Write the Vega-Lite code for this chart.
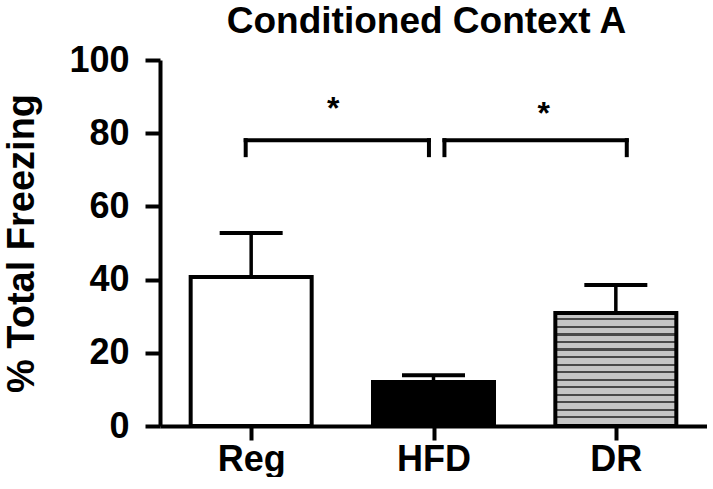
{
  "$schema": "https://vega.github.io/schema/vega-lite/v6.json",
  "width": 547,
  "height": 366,
  "padding": {"left": 3, "top": 3, "right": 0, "bottom": 0},
  "background": "white",
  "config": {
    "view": {"stroke": null},
    "font": "Liberation Sans",
    "axis": {
      "grid": false,
      "domainColor": "black",
      "domainWidth": 4,
      "tickColor": "black",
      "tickWidth": 4,
      "labelFont": "Liberation Sans",
      "labelFontWeight": "bold",
      "labelColor": "black",
      "titleFont": "Liberation Sans",
      "titleFontWeight": "bold",
      "titleColor": "black"
    }
  },
  "title": {
    "text": "Conditioned Context A",
    "font": "Liberation Sans",
    "fontSize": 37,
    "fontWeight": "bold",
    "color": "black",
    "anchor": "middle",
    "frame": "group",
    "dx": -7,
    "offset": 1
  },
  "datasets": {
    "bars": [
      {"group": "Reg", "i": 0, "mean": 40.7, "upper": 52.7},
      {"group": "HFD", "i": 1, "mean": 12.0, "upper": 13.9},
      {"group": "DR", "i": 2, "mean": 30.9, "upper": 38.5}
    ],
    "brackets": [
      {"x": -0.03, "x2": 0.975, "y": 78.1, "y2": 78.1},
      {"x": -0.03, "x2": -0.03, "y": 78.1, "y2": 74.0},
      {"x": 0.975, "x2": 0.975, "y": 78.1, "y2": 74.0},
      {"x": 1.06, "x2": 2.06, "y": 78.1, "y2": 78.1},
      {"x": 1.06, "x2": 1.06, "y": 78.1, "y2": 74.0},
      {"x": 2.06, "x2": 2.06, "y": 78.1, "y2": 74.0}
    ],
    "stars": [
      {"x": 0.45, "y": 84.0, "label": "*"},
      {"x": 1.605, "y": 82.5, "label": "*"}
    ]
  },
  "layer": [
    {
      "data": {"name": "bars"},
      "mark": {"type": "rule", "stroke": "black", "strokeWidth": 3.5},
      "encoding": {
        "x": {
          "field": "i", "type": "quantitative",
          "scale": {"domain": [-0.5, 2.5], "nice": false, "zero": false, "padding": 0},
          "axis": {
            "values": [0, 1, 2],
            "labelExpr": "['Reg','HFD','DR'][datum.value]",
            "labelFontSize": 36,
            "tickSize": 14,
            "labelPadding": 2,
            "title": null
          }
        },
        "y": {
          "field": "mean", "type": "quantitative",
          "scale": {"domain": [0, 100], "nice": false},
          "axis": {
            "values": [0, 20, 40, 60, 80, 100],
            "labelFontSize": 36,
            "tickSize": 15,
            "labelPadding": 16,
            "title": "% Total Freezing",
            "titleFontSize": 38,
            "titlePadding": 27
          }
        },
        "y2": {"field": "upper"}
      }
    },
    {
      "data": {"name": "bars"},
      "mark": {"type": "tick", "orient": "horizontal", "size": 63, "thickness": 4, "color": "black", "opacity": 1},
      "encoding": {
        "x": {"field": "i", "type": "quantitative"},
        "y": {"field": "upper", "type": "quantitative"}
      }
    },
    {
      "data": {"name": "bars"},
      "transform": [{"filter": "datum.group !== 'DR'"}],
      "mark": {"type": "bar", "size": 121, "stroke": "black", "strokeWidth": 4},
      "encoding": {
        "x": {"field": "i", "type": "quantitative"},
        "y": {"field": "mean", "type": "quantitative"},
        "fill": {
          "field": "group", "type": "nominal",
          "scale": {"domain": ["Reg", "HFD"], "range": ["white", "black"]},
          "legend": null
        }
      }
    },
    {
      "data": {"name": "bars"},
      "transform": [{"filter": "datum.group === 'DR'"}],
      "mark": {
        "type": "bar", "size": 121, "stroke": "black", "strokeWidth": 4,
        "fill": {
          "gradient": "linear", "x1": 0, "y1": 0, "x2": 0, "y2": 1,
          "stops": [
            {"offset": 0, "color": "#c6c6c6"}, {"offset": 0.048, "color": "#c6c6c6"}, {"offset": 0.048, "color": "#4a4a4a"}, {"offset": 0.0667, "color": "#4a4a4a"},
            {"offset": 0.0667, "color": "#c6c6c6"}, {"offset": 0.1147, "color": "#c6c6c6"}, {"offset": 0.1147, "color": "#4a4a4a"}, {"offset": 0.1333, "color": "#4a4a4a"},
            {"offset": 0.1333, "color": "#c6c6c6"}, {"offset": 0.1813, "color": "#c6c6c6"}, {"offset": 0.1813, "color": "#4a4a4a"}, {"offset": 0.2, "color": "#4a4a4a"},
            {"offset": 0.2, "color": "#c6c6c6"}, {"offset": 0.248, "color": "#c6c6c6"}, {"offset": 0.248, "color": "#4a4a4a"}, {"offset": 0.2667, "color": "#4a4a4a"},
            {"offset": 0.2667, "color": "#c6c6c6"}, {"offset": 0.3147, "color": "#c6c6c6"}, {"offset": 0.3147, "color": "#4a4a4a"}, {"offset": 0.3333, "color": "#4a4a4a"},
            {"offset": 0.3333, "color": "#c6c6c6"}, {"offset": 0.3813, "color": "#c6c6c6"}, {"offset": 0.3813, "color": "#4a4a4a"}, {"offset": 0.4, "color": "#4a4a4a"},
            {"offset": 0.4, "color": "#c6c6c6"}, {"offset": 0.448, "color": "#c6c6c6"}, {"offset": 0.448, "color": "#4a4a4a"}, {"offset": 0.4667, "color": "#4a4a4a"},
            {"offset": 0.4667, "color": "#c6c6c6"}, {"offset": 0.5147, "color": "#c6c6c6"}, {"offset": 0.5147, "color": "#4a4a4a"}, {"offset": 0.5333, "color": "#4a4a4a"},
            {"offset": 0.5333, "color": "#c6c6c6"}, {"offset": 0.5813, "color": "#c6c6c6"}, {"offset": 0.5813, "color": "#4a4a4a"}, {"offset": 0.6, "color": "#4a4a4a"},
            {"offset": 0.6, "color": "#c6c6c6"}, {"offset": 0.648, "color": "#c6c6c6"}, {"offset": 0.648, "color": "#4a4a4a"}, {"offset": 0.6667, "color": "#4a4a4a"},
            {"offset": 0.6667, "color": "#c6c6c6"}, {"offset": 0.7147, "color": "#c6c6c6"}, {"offset": 0.7147, "color": "#4a4a4a"}, {"offset": 0.7333, "color": "#4a4a4a"},
            {"offset": 0.7333, "color": "#c6c6c6"}, {"offset": 0.7813, "color": "#c6c6c6"}, {"offset": 0.7813, "color": "#4a4a4a"}, {"offset": 0.8, "color": "#4a4a4a"},
            {"offset": 0.8, "color": "#c6c6c6"}, {"offset": 0.848, "color": "#c6c6c6"}, {"offset": 0.848, "color": "#4a4a4a"}, {"offset": 0.8667, "color": "#4a4a4a"},
            {"offset": 0.8667, "color": "#c6c6c6"}, {"offset": 0.9147, "color": "#c6c6c6"}, {"offset": 0.9147, "color": "#4a4a4a"}, {"offset": 0.9333, "color": "#4a4a4a"},
            {"offset": 0.9333, "color": "#c6c6c6"}, {"offset": 0.9813, "color": "#c6c6c6"}, {"offset": 0.9813, "color": "#4a4a4a"}, {"offset": 1, "color": "#4a4a4a"}
          ]
        }
      },
      "encoding": {
        "x": {"field": "i", "type": "quantitative"},
        "y": {"field": "mean", "type": "quantitative"}
      }
    },
    {
      "data": {"name": "brackets"},
      "mark": {"type": "rule", "stroke": "black", "strokeWidth": 4, "strokeCap": "square"},
      "encoding": {
        "x": {"field": "x", "type": "quantitative"},
        "x2": {"field": "x2"},
        "y": {"field": "y", "type": "quantitative"},
        "y2": {"field": "y2"}
      }
    },
    {
      "data": {"name": "stars"},
      "mark": {"type": "text", "font": "Liberation Sans", "fontWeight": "bold", "fontSize": 32, "color": "black", "baseline": "alphabetic", "align": "center"},
      "encoding": {
        "x": {"field": "x", "type": "quantitative"},
        "y": {"field": "y", "type": "quantitative"},
        "text": {"field": "label"}
      }
    }
  ]
}
